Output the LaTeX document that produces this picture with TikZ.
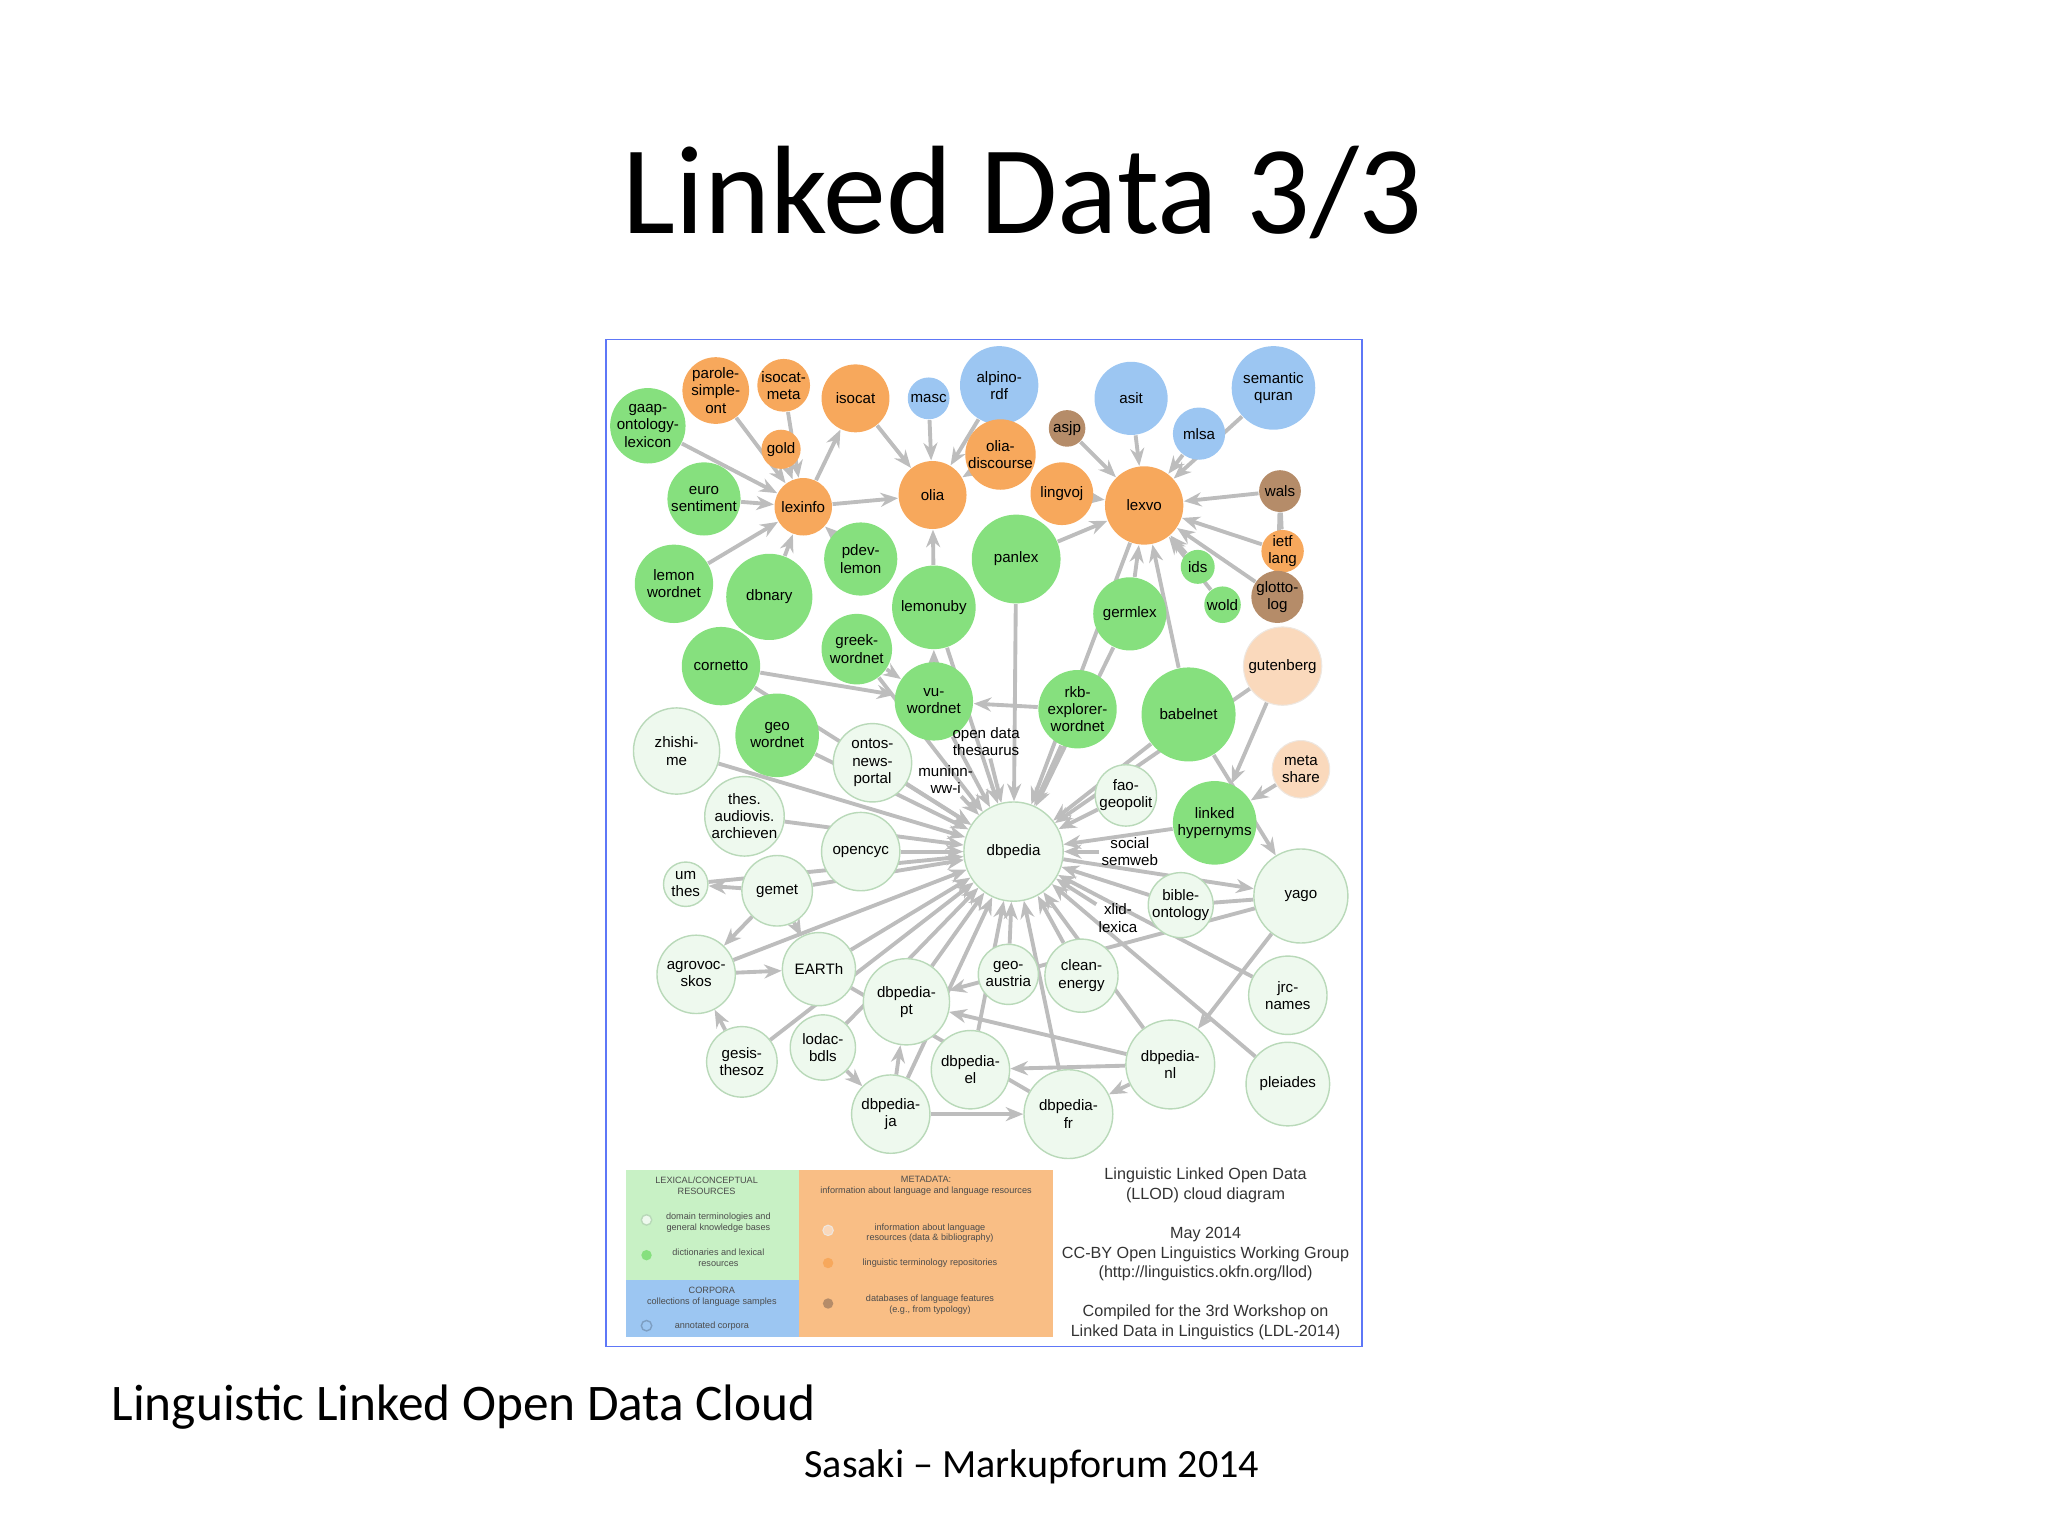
\documentclass[tikz,border=0pt]{standalone}
\usepackage{fontspec}
\setmainfont{Carlito}
\newfontfamily\arialf{Liberation Sans}
\usetikzlibrary{arrows.meta,backgrounds}
\definecolor{cg}{HTML}{86E07E}
\definecolor{cl}{HTML}{EEF9EE}
\definecolor{clb}{HTML}{B9D9B9}
\definecolor{co}{HTML}{F7A85C}
\definecolor{clo}{HTML}{FAD9BC}
\definecolor{cb}{HTML}{9CC6F2}
\definecolor{cbr}{HTML}{B58C69}
\definecolor{ed}{HTML}{BDBDBD}
\tikzset{
 base/.style={circle,inner sep=0pt,align=center,font=\arialf\fontsize{4.3}{4.9}\selectfont,minimum size=#1*0.026122cm},
 G/.style={base=#1,fill=cg},
 L/.style={base=#1,fill=cl,draw=clb,line width=0.4pt},
 O/.style={base=#1,fill=co},
 LO/.style={base=#1,fill=clo,draw=clo!80!black!30,line width=0.3pt},
 B/.style={base=#1,fill=cb},
 BR/.style={base=#1,fill=cbr},
 T/.style={inner sep=0.5pt,align=center,font=\arialf\fontsize{4.3}{4.9}\selectfont},
 e/.style={draw=ed,line width=1.1pt},
 a/.style={e,-{Stealth[length=5pt,width=4pt]}},
 lg/.style={align=center,font=\arialf\fontsize{2.6}{3}\selectfont,text=black!70},
}
\begin{document}
\begin{tikzpicture}[x=0.013061cm,y=-0.013061cm]
\useasboundingbox (0,0) rectangle (1568,1176);
\node[font=\fontsize{35.8}{40}\selectfont] (title) at (783,147) {Linked Data 3/3};
\node[anchor=west,font=\fontsize{14.6}{17}\selectfont] (cap) at (76,1077) {Linguistic Linked Open Data Cloud};
\node[font=\fontsize{11.4}{13}\selectfont] (foot) at (790,1123) {Sasaki – Markupforum 2014};
\draw[draw=cb!60!blue,line width=0.5pt] (464,260) rectangle (1043,1031);
% nodes
\node[O=21] (parole) at (548,299) {parole-\\simple-\\ont};
\node[O=18] (isocatmeta) at (600,295) {isocat-\\meta};
\node[O=26] (isocat) at (655,305) {isocat};
\node[B=16] (masc) at (711,305) {masc};
\node[B=30] (alpino) at (765,295) {alpino-\\rdf};
\node[B=28] (asit) at (866,305) {asit};
\node[B=32] (quran) at (975,297) {semantic\\quran};
\node[G=28] (gaap) at (496,326) {gaap-\\ontology-\\lexicon};
\node[O=15] (gold) at (598,344) {gold};
\node[BR=14] (asjp) at (817,328) {asjp};
\node[B=20] (misa) at (918,332) {mlsa};
\node[O=20] (oliad) at (766,348) {olia-\\discourse};
\node[O=26] (olia) at (714,379) {olia};
\node[O=24] (lingvoj) at (813,378) {lingvoj};
\node[O=30] (lexvo) at (876,387) {lexvo};
\node[BR=16] (wals) at (980,376) {wals};
\node[G=28] (euro) at (539,382) {euro\\sentiment};
\node[O=22] (lexinfo) at (615,388) {lexinfo};
\node[O=15] (ietf) at (982,422) {ietf\\lang};
\node[G=13] (ids) at (917,434) {ids};
\node[BR=15] (glotto) at (978,457) {glotto-\\log};
\node[G=28] (pdev) at (659,428) {pdev-\\lemon};
\node[G=34] (panlex) at (778,428) {panlex};
\node[G=30] (lwordnet) at (516,447) {lemon\\wordnet};
\node[G=33] (dbnary) at (589,457) {dbnary};
\node[G=32] (lemonuby) at (715,465) {lemonuby};
\node[G=28] (germlex) at (865,470) {germlex};
\node[G=14] (wold) at (936,463) {wold};
\node[G=27] (greek) at (656,497) {greek-\\wordnet};
\node[LO=30] (gutenberg) at (982,510) {gutenberg};
\node[G=30] (cornetto) at (552,510) {cornetto};
\node[G=30] (vu) at (715,537) {vu-\\wordnet};
\node[G=30] (rkb) at (825,543) {rkb-\\explorer-\\wordnet};
\node[G=36] (babelnet) at (910,547) {babelnet};
\node[L=33] (zhishi) at (518,575) {zhishi-\\me};
\node[G=32] (geow) at (595,563) {geo\\wordnet};
\node[L=30] (ontos) at (668,584) {ontos-\\news-\\portal};
\node[T] (odt) at (755,568) {open data\\thesaurus};
\node[T] (muninn) at (724,597) {muninn-\\ww-i};
\node[LO=22] (meta) at (996,589) {meta\\share};
\node[L=28] (thes) at (570,625) {thes.\\audiovis.\\archieven};
\node[L=22] (fao) at (862,609) {fao-\\geopolit};
\node[G=32] (hyper) at (930,630) {linked\\hypernyms};
\node[L=30] (opencyc) at (659,652) {opencyc};
\node[L=38] (dbpedia) at (776,652) {dbpedia};
\node[T] (social) at (865,652) {social\\semweb};
\node[L=17] (umthes) at (525,677) {um\\thes};
\node[L=27] (gemet) at (595,682) {gemet};
\node[L=24] (bible) at (904,693) {bible-\\ontology};
\node[L=36] (yago) at (996,686) {yago};
\node[T] (xlid) at (856,703) {xlid-\\lexica};
\node[L=30] (agrovoc) at (533,746) {agrovoc-\\skos};
\node[L=28] (earth) at (627,742) {EARTh};
\node[L=23] (geoaus) at (772,746) {geo-\\austria};
\node[L=28] (clean) at (828,747) {clean-\\energy};
\node[L=33] (dbpt) at (694,767) {dbpedia-\\pt};
\node[L=30] (jrc) at (986,762) {jrc-\\names};
\node[L=25] (lodac) at (630,802) {lodac-\\bdls};
\node[L=27] (gesis) at (568,813) {gesis-\\thesoz};
\node[L=30] (dbel) at (743,819) {dbpedia-\\el};
\node[L=34] (dbnl) at (896,815) {dbpedia-\\nl};
\node[L=32] (pleiades) at (986,830) {pleiades};
\node[L=30] (dbja) at (682,853) {dbpedia-\\ja};
\node[L=34] (dbfr) at (818,853) {dbpedia-\\fr};
% legend
\fill[cg!45] (479,896) rectangle (612,980);
\fill[cb] (479,980) rectangle (612,1024);
\fill[co!75] (612,896) rectangle (806,1024);
\node[lg] (lg1) at (541,908) {LEXICAL/CONCEPTUAL\\RESOURCES};
\node[lg] (lg2) at (550,936) {domain terminologies and\\general knowledge bases};
\node[lg] (lg3) at (550,963) {dictionaries and lexical\\resources};
\node[lg] (lg4) at (545,993) {CORPORA\\collections of language samples};
\node[lg] (lg5) at (545,1015) {annotated corpora};
\node[lg] (lg6) at (709,908) {METADATA:\\information about language and language resources};
\node[lg] (lg7) at (712,944) {information about language\\resources (data \& bibliography)};
\node[lg] (lg8) at (712,967) {linguistic terminology repositories};
\node[lg] (lg9) at (712,999) {databases of language features\\(e.g., from typology)};
\node[L=4] (k1) at (495,934) {};
\node[G=4] (k2) at (495,961) {};
\node[B=4,draw=cb!80!black] (k3) at (495,1015) {};
\node[LO=4] (k4) at (634,942) {};
\node[O=4] (k5) at (634,967) {};
\node[BR=4] (k6) at (634,998) {};
\node[align=center,font=\arialf\fontsize{4.6}{5.6}\selectfont,text=black!80] (info) at (923,960) {Linguistic Linked Open Data\\(LLOD) cloud diagram\\[5.5pt]May 2014\\CC-BY Open Linguistics Working Group\\(http://linguistics.okfn.org/llod)\\[5.5pt]Compiled for the 3rd Workshop on\\Linked Data in Linguistics (LDL-2014)};
\begin{scope}[on background layer]
\foreach \n in {opencyc,ontos,odt,muninn,vu,lemonuby,rkb,babelnet,fao,hyper,social,bible,xlid,clean,geoaus,dbel,dbfr,dbja,dbpt,lodac,earth,gemet,thes,zhishi,agrovoc,gesis,dbnl,geow,greek,cornetto,panlex,lexvo,germlex,gutenberg,jrc,pleiades,umthes}
  \draw[a] (\n) -- (dbpedia);
\draw[a] (dbpedia) -- (yago);
\foreach \n in {gaap,euro,lwordnet,gold,parole,isocatmeta,pdev,dbnary}
  \draw[a] (\n) -- (lexinfo);
\draw[a] (lexinfo) -- (olia);
\draw[a] (lexinfo) -- (isocat);
\foreach \n in {masc,alpino,oliad,isocat}
  \draw[a] (\n) -- (olia);
\draw[a] (lemonuby) -- (olia);
\foreach \n in {wals,ietf,glotto,ids,wold,lingvoj,misa,quran,asjp,asit}
  \draw[a] (\n) -- (lexvo);
\draw[a] (germlex) -- (lexvo);
\draw[a] (panlex) -- (lexvo);
\draw[a] (babelnet) -- (lexvo);
\draw[e] (glotto) -- (wals);
\draw[e] (ietf) -- (wals);
\draw[a] (meta) -- (hyper);
\draw[a] (gutenberg) -- (hyper);
\draw[a] (yago) -- (dbnl);
\draw[a] (yago) -- (dbpt);
\draw[a] (dbnl) -- (dbfr);
\draw[a] (dbnl) -- (dbpt);
\draw[a] (dbnl) -- (dbel);
\draw[a] (dbja) -- (dbfr);
\draw[a] (dbja) -- (dbpt);
\draw[a] (lodac) -- (dbja);
\draw[a] (agrovoc) -- (earth);
\draw[a] (gemet) -- (earth);
\draw[a] (gemet) -- (umthes);
\draw[a] (gemet) -- (agrovoc);
\draw[a] (gesis) -- (agrovoc);
\draw[a] (cornetto) -- (vu);
\draw[a] (greek) -- (vu);
\draw[a] (rkb) -- (vu);
\draw[a] (vu) -- (lemonuby);
\draw[a] (babelnet) -- (yago);
\draw[e] (bible) -- (yago);
\draw[e] (earth) -- (dbfr);
\end{scope}
\end{tikzpicture}
\end{document}
